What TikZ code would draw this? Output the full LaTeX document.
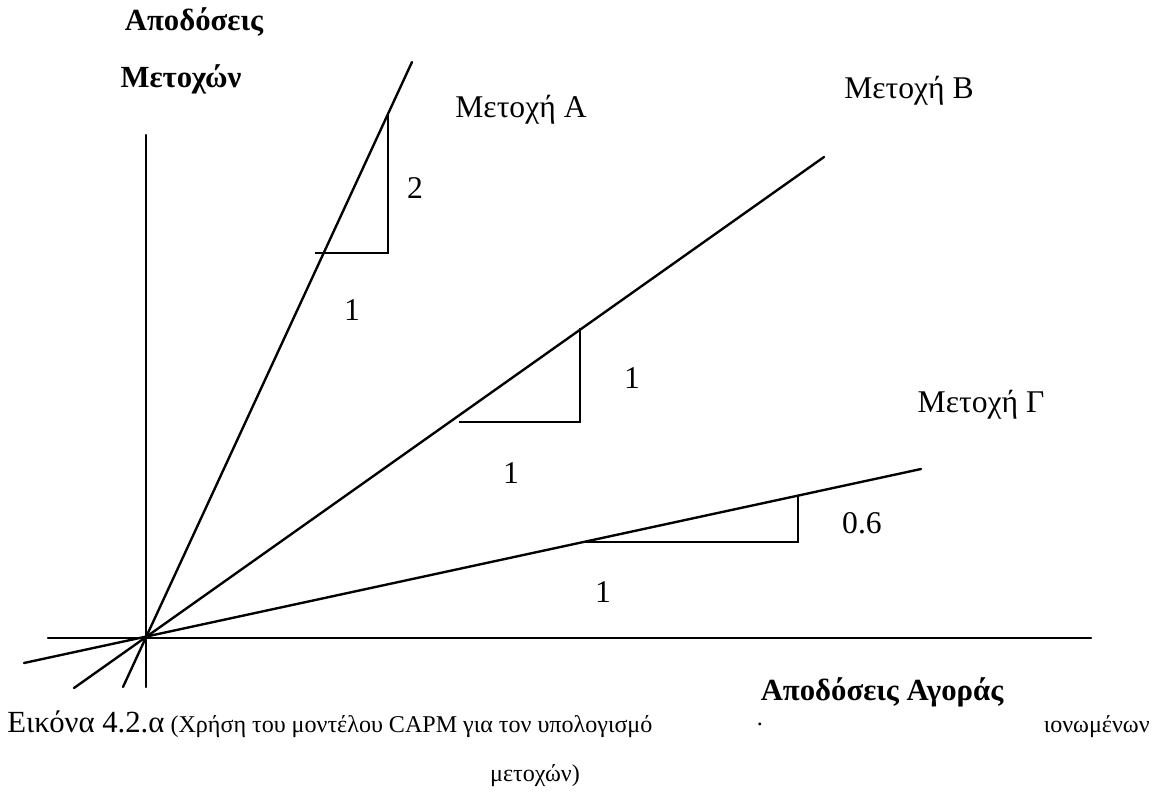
\documentclass[tikz,border=0pt]{standalone}
\usepackage{fontspec}
\setmainfont{Liberation Serif}
\begin{document}
\begin{tikzpicture}[x=0.02cm,y=-0.02cm,
  ln/.style={line width=1.35pt,line cap=round},
  tri/.style={line width=1.15pt,line join=miter},
  lbl/.style={inner sep=0pt,font=\fontsize{18}{21}\selectfont},
  blbl/.style={inner sep=0pt,font=\fontsize{17.5}{20}\selectfont\bfseries},
  captxt/.style={inner sep=0pt,font=\fontsize{13.7}{16}\selectfont}]
\useasboundingbox (0,0) rectangle (1154,792);
% axes
\coordinate (O) at (146,637);
\coordinate (xl) at (48,638);
\coordinate (xr) at (1091,638);
\coordinate (yb) at (146,687);
\coordinate (yt) at (146,135);
\draw[ln] (xl) -- (xr);
\draw[ln] (yb) -- (yt);
% lines
\coordinate (Alo) at (123,687);
\coordinate (Ahi) at (412,62);
\coordinate (Blo) at (74,688);
\coordinate (Bhi) at (824,157);
\coordinate (Glo) at (24,663);
\coordinate (Ghi) at (921,469);
\draw[ln] (Alo) -- (Ahi);
\draw[ln] (Blo) -- (Bhi);
\draw[ln] (Glo) -- (Ghi);
% slope triangles
\coordinate (A1) at (315,253);
\coordinate (A2) at (388,253);
\coordinate (A3) at (388,113);
\draw[tri] (A1) -- (A2) -- (A3);
\coordinate (B1) at (459,422);
\coordinate (B2) at (580,422);
\coordinate (B3) at (580,328);
\draw[tri] (B1) -- (B2) -- (B3);
\coordinate (G1) at (583,542);
\coordinate (G2) at (798,542);
\coordinate (G3) at (798,495);
\draw[tri] (G1) -- (G2) -- (G3);
% labels
\node[blbl] (ya1) at (194,22) {Αποδόσεις};
\node[blbl] (ya2) at (181,79) {Μετοχών};
\node[blbl] (xa) at (882,692) {Αποδόσεις Αγοράς};
\node[lbl] (la) at (521,110) {Μετοχή Α};
\node[lbl] (lb) at (909,91) {Μετοχή Β};
\node[lbl] (lg) at (981,405) {Μετοχή Γ};
\node[lbl] (n2) at (415,188) {2};
\node[lbl] (n1a) at (352,310) {1};
\node[lbl] (n1b) at (632,378) {1};
\node[lbl] (n1c) at (511,473) {1};
\node[lbl] (n06) at (862,523) {0.6};
\node[lbl] (n1d) at (603,592) {1};
% caption
\node[captxt,anchor=base west] (c1) at (7,732) {{\fontsize{17.5}{20}\selectfont Εικόνα 4.2.α} (Χρήση του μοντέλου CAPM για τον υπολογισμό};
\node[captxt] (cdot) at (760,724) {.};
\node[captxt,anchor=base east] (c2) at (1150,732) {ιονωμένων};
\node[captxt] (c3) at (535,776) {μετοχών)};
\end{tikzpicture}
\end{document}
